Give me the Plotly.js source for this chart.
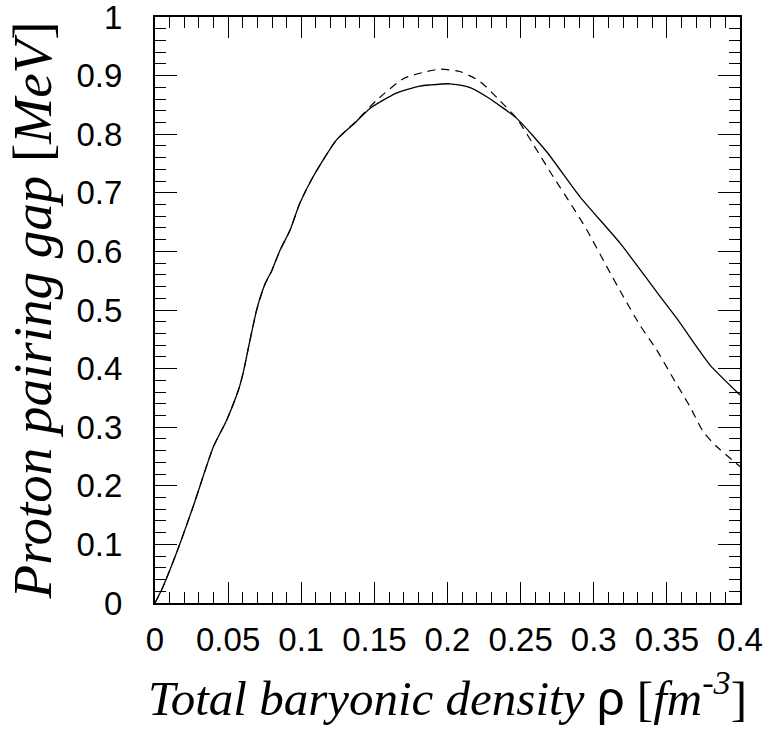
<!DOCTYPE html>
<html>
<head>
<meta charset="utf-8">
<script src="https://cdn.plot.ly/plotly-3.0.1.min.js"></script>
<style>
  html, body { margin: 0; padding: 0; background: #fff; }
  #chart { width: 771px; height: 740px; }
</style>
</head>
<body>
<div id="chart"></div>
<script>
// Solid curve
const solidDensity = [0, 0.005, 0.015, 0.026, 0.040, 0.049, 0.057, 0.0605, 0.064, 0.0695, 0.075, 0.080, 0.0855, 0.0923, 0.099, 0.108, 0.124, 0.137, 0.147, 0.165, 0.181, 0.188, 0.2017, 0.2150, 0.2268, 0.2473, 0.2678, 0.2906, 0.318, 0.343, 0.3567, 0.3704, 0.3795, 0.400];
const solidGap     = [0, 0.025, 0.0875, 0.164, 0.267, 0.312, 0.363, 0.395, 0.437, 0.500, 0.543, 0.568, 0.602, 0.636, 0.682, 0.727, 0.790, 0.820, 0.844, 0.870, 0.882, 0.884, 0.886, 0.880, 0.864, 0.827, 0.770, 0.693, 0.614, 0.531, 0.486, 0.437, 0.406, 0.355];

// Dashed curve
const dashedDensity = [0, 0.005, 0.015, 0.026, 0.040, 0.049, 0.057, 0.0605, 0.064, 0.0695, 0.075, 0.080, 0.0855, 0.0923, 0.099, 0.108, 0.124, 0.137, 0.1516, 0.170, 0.186, 0.1949, 0.2085, 0.2222, 0.2359, 0.2473, 0.261, 0.2724, 0.2838, 0.2952, 0.3089, 0.3202, 0.3316, 0.343, 0.3544, 0.3658, 0.3749, 0.384, 0.400];
const dashedGap     = [0, 0.025, 0.0875, 0.164, 0.267, 0.312, 0.363, 0.395, 0.437, 0.500, 0.543, 0.568, 0.602, 0.636, 0.682, 0.727, 0.790, 0.821, 0.858, 0.895, 0.907, 0.911, 0.907, 0.890, 0.857, 0.827, 0.773, 0.727, 0.683, 0.637, 0.574, 0.523, 0.474, 0.432, 0.383, 0.335, 0.292, 0.267, 0.233];

const xTickVals = [0, 0.05, 0.1, 0.15, 0.2, 0.25, 0.3, 0.35, 0.4];
const xTickText = ['0', '0.05', '0.1', '0.15', '0.2', '0.25', '0.3', '0.35', '0.4'];
const yTickVals = [0, 0.1, 0.2, 0.3, 0.4, 0.5, 0.6, 0.7, 0.8, 0.9, 1];
const yTickText = ['0', '0.1', '0.2', '0.3', '0.4', '0.5', '0.6', '0.7', '0.8', '0.9', '1'];

const xTitle = '<i>Total baryonic density</i> <span style="font-family:Liberation Sans">ρ</span> [<i>fm</i><sup><i>-3</i></sup>]';
const yTitle = '<i>Proton pairing gap</i> [<i>MeV</i>]';

const SERIF = 'Liberation Serif';
const SANS = 'Liberation Sans';

const traces = [
  { x: solidDensity, y: solidGap, type: 'scatter', mode: 'lines',
    line: { color: '#000', width: 1.3, shape: 'spline', smoothing: 0.6 }, showlegend: false, hoverinfo: 'skip' },
  { x: dashedDensity, y: dashedGap, type: 'scatter', mode: 'lines',
    line: { color: '#000', width: 1.2, dash: '8px,6px', shape: 'spline', smoothing: 0.6 }, showlegend: false, hoverinfo: 'skip' }
];

const axisCommon = {
  showgrid: false, zeroline: false, showline: true, linecolor: '#000', linewidth: 2,
  mirror: 'ticks', ticks: 'inside', tickcolor: '#000', tickwidth: 1,
  tickfont: { family: SANS, size: 33, color: '#000' },
  automargin: false, fixedrange: true, tickmode: 'array',
  ticklabeloverflow: 'allow'
};

const layout = {
  width: 771, height: 740,
  margin: { l: 155, r: 31, t: 17, b: 137 },
  paper_bgcolor: '#fff', plot_bgcolor: '#fff',
  font: { family: SANS, color: '#000' },
  xaxis: Object.assign({}, axisCommon, {
    range: [0, 0.4], tickvals: xTickVals, ticktext: xTickText, ticklen: 21,
    ticklabelstandoff: 6,
    minor: { dtick: 0.01, tick0: 0, ticklen: 11, tickcolor: '#000', tickwidth: 1, ticks: 'inside' },
    title: { text: xTitle, font: { family: SERIF, size: 49, color: '#000' }, standoff: 24 }
  }),
  yaxis: Object.assign({}, axisCommon, {
    range: [0, 1], tickvals: yTickVals, ticktext: yTickText, ticklen: 22,
    ticklabelstandoff: 24,
    minor: { dtick: 0.02, tick0: 0, ticklen: 11, tickcolor: '#000', tickwidth: 1, ticks: 'inside' },
    title: { text: yTitle, font: { family: SERIF, size: 55, color: '#000' }, standoff: 7 }
  })
};

Plotly.newPlot('chart', traces, layout, { displayModeBar: false, staticPlot: true });
</script>
</body>
</html>
